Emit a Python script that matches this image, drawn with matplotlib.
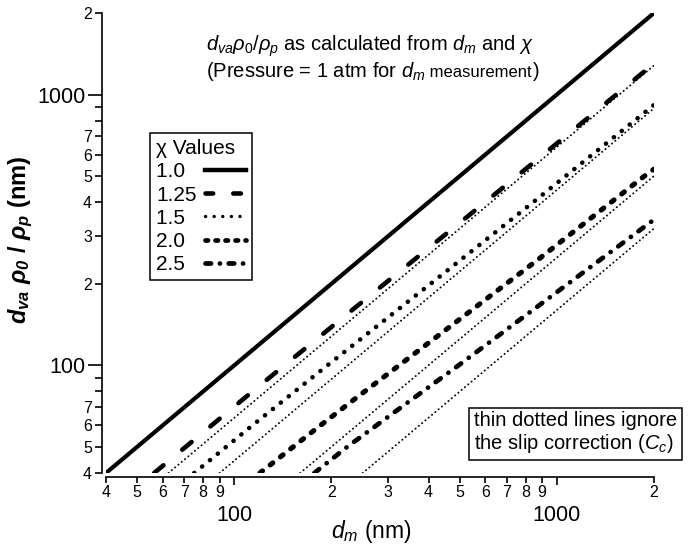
import numpy as np
import matplotlib
matplotlib.use('Agg')
import matplotlib.pyplot as plt
from matplotlib.lines import Line2D
from matplotlib.ticker import FixedLocator, LogLocator, FuncFormatter
from matplotlib.transforms import IdentityTransform

plt.rcParams['font.family'] = ['Liberation Sans', 'DejaVu Sans']
plt.rcParams['mathtext.fontset'] = 'custom'
plt.rcParams['mathtext.rm'] = 'Liberation Sans'
plt.rcParams['mathtext.it'] = 'Liberation Sans:italic'
plt.rcParams['mathtext.bf'] = 'Liberation Sans:italic:bold'
plt.rcParams['lines.scale_dashes'] = False

# chi values shown in the legend
chi_labels = ['1.0', '1.25', '1.5', '2.0', '2.5']

# thick lines: with slip correction (d_m in nm, d_va*rho0/rhop in nm)
dm_10 = [40, 2000]
dva_10 = [40, 2000]
dm_125 = [56.4, 79.3, 113.8, 232, 599, 1218, 2000]
dva_125 = [40, 56, 80, 160, 400, 800, 1302]
dm_15 = [75.1, 113.8, 194.5, 406, 844, 2000]
dva_15 = [40, 60, 100, 200, 400, 915]
dm_20 = [120, 185, 236, 324.5, 891, 1869, 2000]
dva_20 = [40, 60, 75, 100, 250, 500, 530]
dm_25 = [177, 224, 276, 340, 496, 1083, 2000]
dva_25 = [40, 50, 60, 72, 100, 200, 345]

# thin dotted lines: no slip correction
thin_dm_125 = [62.5, 2000]
thin_dva_125 = [40, 1280]
thin_dm_15 = [90, 2000]
thin_dva_15 = [40, 889]
thin_dm_20 = [160, 2000]
thin_dva_20 = [40, 500]
thin_dm_25 = [250, 2000]
thin_dva_25 = [40, 320]

W, H = 689, 545
def fx(x):
    return x / W
def fy(y):
    return 1 - y / H

fig = plt.figure(figsize=(W / 100, H / 100), dpi=100)
ax = fig.add_axes([fx(106), fy(473), (654 - 106) / W, (473 - 13) / H])

# thin dotted
thin = dict(color='k', lw=1.4, dashes=(0.1, 3.0), dash_capstyle='round')
ax.plot(thin_dm_125, thin_dva_125, **thin)
ax.plot(thin_dm_15, thin_dva_15, **thin)
ax.plot(thin_dm_20, thin_dva_20, **thin)
ax.plot(thin_dm_25, thin_dva_25, **thin)

# thick
ax.plot(dm_10, dva_10, color='k', lw=3.0, solid_capstyle='round')
ax.plot(dm_125, dva_125, color='k', lw=3.3, dashes=(8.7, 17.6), dash_capstyle='round')
ax.plot(dm_15, dva_15, color='k', lw=3.3, dashes=(0.1, 7.2), dash_capstyle='round')
ax.plot(dm_20, dva_20, color='k', lw=3.7, dashes=(2.4, 7.0), dash_capstyle='round')
ax.plot(dm_25, dva_25, color='k', lw=3.4, dashes=(4.5, 6.8, 0.1, 6.8), dash_capstyle='round')

ax.set_xscale('log')
ax.set_yscale('log')
ax.set_xlim(40, 2000)
ax.set_ylim(40, 2000)

def lead(v):
    return int(round(v / 10 ** np.floor(np.log10(v))))

for axis in (ax.xaxis, ax.yaxis):
    axis.set_major_locator(FixedLocator([100, 1000]))
    axis.set_major_formatter(FuncFormatter(lambda v, p: f'{v:g}'))
    axis.set_minor_locator(LogLocator(base=10, subs=np.arange(2, 10)))
ax.xaxis.set_minor_formatter(FuncFormatter(lambda v, p: str(lead(v))))
ax.yaxis.set_minor_formatter(FuncFormatter(lambda v, p: str(lead(v)) if lead(v) <= 7 else ''))

ax.tick_params(axis='x', which='major', length=6, width=1.2, pad=14, labelsize=15.5)
ax.tick_params(axis='x', which='minor', length=4, width=1.2, pad=1.5, labelsize=11.5)
ax.tick_params(axis='y', which='major', length=10, width=1.2, pad=2, labelsize=15.5)
ax.tick_params(axis='y', which='minor', length=5, width=1.2, pad=2, labelsize=11.5)

for s in ('top', 'right'):
    ax.spines[s].set_visible(False)
for s in ('left', 'bottom'):
    ax.spines[s].set_linewidth(1.2)
    ax.spines[s].set_position(('outward', 3))

ax.set_xlabel(r'$d_m$ (nm)', fontsize=16.5)
ax.xaxis.set_label_coords((371 - 106) / 548, (473 - 518) / 460)
ax.set_ylabel(r'$\mathbf{d}_{\mathbf{va}}$ $\mathbf{\rho}_{\mathbf{0}}$ / $\mathbf{\rho}_{\mathbf{p}}$ (nm)',
              fontsize=17, fontweight='bold')
ax.yaxis.set_label_coords((35 - 106) / 548, (473 - 240) / 460)

# legend
handles = [
    Line2D([], [], color='k', lw=3.2),
    Line2D([], [], color='k', lw=3.3, dashes=(5.5, 14.5), dash_capstyle='round'),
    Line2D([], [], color='k', lw=2.4, dashes=(0.1, 6.1), dash_capstyle='round'),
    Line2D([], [], color='k', lw=3.4, dashes=(1.8, 5.4), dash_capstyle='round'),
    Line2D([], [], color='k', lw=3.4, dashes=(4.0, 6.3, 0.1, 6.3), dash_capstyle='round'),
]
labels = [c if len(c) == 4 else c + '  ' for c in chi_labels]
leg = ax.legend(handles, labels, title='χ Values', loc='upper left',
                bbox_to_anchor=(fx(150), fy(133)), bbox_transform=fig.transFigure,
                markerfirst=False, fancybox=False, edgecolor='k', framealpha=1,
                fontsize=15, title_fontsize=15, alignment='left',
                handlelength=1.95, handletextpad=0.4, labelspacing=0.2,
                borderpad=0.3, borderaxespad=0)
leg.get_frame().set_linewidth(1.1)

# annotation at the top
fig.text(fx(206), fy(51), r'$d_{va}\rho_{\mathit{0}}/\rho_p$ as calculated from $d_m$ and $\chi$',
         fontsize=14.5, va='baseline', ha='left')
t1 = fig.text(fx(206), fy(77), r'(Pressure = 1 atm for $d_m$', fontsize=14.5,
              va='baseline', ha='left')
fig.canvas.draw()
r = fig.canvas.get_renderer()
b1 = t1.get_window_extent(r)
y0 = (1 - 77 / H) * H
t2 = fig.text(b1.x1, y0, ' measurement', fontsize=12, va='baseline', ha='left',
              transform=IdentityTransform())
b2 = t2.get_window_extent(r)
fig.text(b2.x1 + 1, y0, ')', fontsize=14.5, va='baseline', ha='left', transform=IdentityTransform())

# note box
fig.text(fx(474), fy(433), 'thin dotted lines ignore\nthe slip correction ($C_c$)',
         fontsize=14.5, va='center', ha='left', linespacing=1.15,
         bbox=dict(boxstyle='square,pad=0.25', fc='white', ec='k', lw=1.1))

fig.savefig('out.png', dpi=100)
